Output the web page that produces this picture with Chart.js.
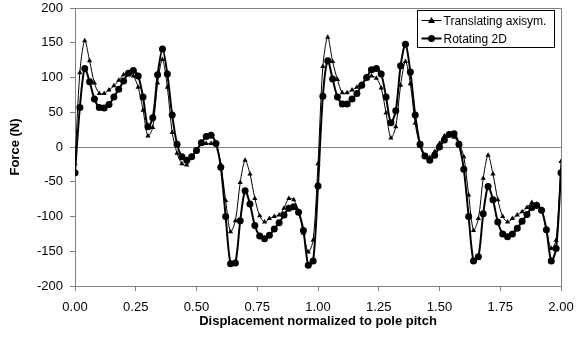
<!DOCTYPE html>
<html>
<head>
<meta charset="utf-8">
<script src="https://cdn.jsdelivr.net/npm/chart.js@4.4.1/dist/chart.umd.min.js"></script>
<style>
  body { margin: 0; background: #fff; }
  #wrap { width: 587px; height: 347px; }
</style>
</head>
<body>
<div id="wrap"><canvas id="chart1" width="587" height="347"></canvas></div>
<script>
//----------------- data ----------------------------------------------

// displacement step is 0.02 pole pitch, 0.00 .. 2.00
const displacement = [];
for (let i = 0; i <= 100; i++) displacement.push(i / 50);

const translating = [
  -24, 107, 153, 124, 92, 77, 77, 82, 88, 96,
  104, 106, 102, 86, 53, 16, 28, 92, 126, 86,
  21, -9, -24, -26, -13, -4, 4, 5, 5, 5,
  -25, -77, -122, -106, -51, -19, -39, -74, -99, -108,
  -103, -100, -98, -88, -74, -76, -92, -124, -151, -134,
  -24, 116, 158, 123, 97, 78, 78, 82, 86, 91,
  99, 102, 99, 85, 49, 13, 29, 89, 123, 91,
  34, 1, -14, -15, -7, 5, 16, 19, 14, 5,
  -14, -69, -120, -103, -45, -12, -39, -76, -100, -108,
  -103, -98, -93, -87, -80, -82, -90, -120, -146, -134,
  -21
];

const rotating = [
  -37, 57, 113, 94, 69, 57, 56, 61, 72, 83,
  95, 106, 110, 102, 72, 29, 42, 104, 141, 105,
  46, 4, -14, -19, -14, -5, 6, 15, 17, 5,
  -29, -100, -168, -167, -106, -63, -82, -113, -128, -132,
  -127, -118, -109, -98, -88, -86, -94, -120, -170, -164,
  -56, 73, 124, 98, 72, 62, 62, 69, 77, 89,
  100, 111, 113, 105, 72, 35, 52, 117, 148, 108,
  46, 4, -13, -19, -12, 0, 10, 18, 19, 4,
  -32, -100, -164, -158, -96, -57, -76, -108, -125, -129,
  -125, -117, -107, -97, -87, -84, -91, -119, -164, -146,
  -37
];

const seriesNames = ["Translating axisym.", "Rotating 2D"];
const xTicks = [0, 0.25, 0.5, 0.75, 1, 1.25, 1.5, 1.75, 2];
const yTicks = [-200, -150, -100, -50, 0, 50, 100, 150, 200];

function toPoints(ys) {
  return ys.map((y, i) => ({ x: displacement[i], y: y }));
}

// ----------- plot frame + legend box (Excel style) -----------
const framePlugin = {
  id: "frame",
  afterDraw(chart) {
    const { ctx, chartArea: a } = chart;
    ctx.save();
    ctx.strokeStyle = "#808080";
    ctx.lineWidth = 1;
    ctx.beginPath();
    ctx.moveTo(a.left, Math.round(a.top) + 0.5);
    ctx.lineTo(Math.round(a.right) + 0.5, Math.round(a.top) + 0.5);
    ctx.lineTo(Math.round(a.right) + 0.5, a.bottom);
    ctx.stroke();

    // legend
    const bx = Math.round(a.right) - 143.5, by = Math.round(a.top) + 2.5;
    ctx.fillStyle = "#fff";
    ctx.fillRect(bx, by, 137, 37);
    ctx.strokeStyle = "#000";
    ctx.strokeRect(bx, by, 137, 37);
    ctx.font = "12px 'Liberation Sans', Arial, sans-serif";
    ctx.textBaseline = "middle";
    ctx.fillStyle = "#000";
    const rows = [by + 10, by + 28];
    chart.data.datasets.forEach((ds, i) => {
      const y = rows[i];
      ctx.lineWidth = ds.borderWidth;
      ctx.beginPath();
      ctx.moveTo(bx + 4, y);
      ctx.lineTo(bx + 24, y);
      ctx.stroke();
      ctx.beginPath();
      if (ds.pointStyle === "triangle") {
        ctx.moveTo(bx + 14, y - 3.5);
        ctx.lineTo(bx + 17.5, y + 2.5);
        ctx.lineTo(bx + 10.5, y + 2.5);
        ctx.closePath();
      } else {
        ctx.arc(bx + 14, y, 3.5, 0, Math.PI * 2);
      }
      ctx.fill();
      ctx.fillText(ds.label, bx + 26, y + 1);
    });
    ctx.restore();
  }
};

const data = {
  datasets: [
    {
      label: seriesNames[0],
      data: toPoints(translating),
      showLine: true,
      tension: 0.3,
      borderColor: "#000",
      backgroundColor: "#000",
      borderWidth: 1,
      pointStyle: "triangle",
      pointRadius: 3,
      pointBorderWidth: 0,
      order: 2
    },
    {
      label: seriesNames[1],
      data: toPoints(rotating),
      showLine: true,
      tension: 0.3,
      borderColor: "#000",
      backgroundColor: "#000",
      borderWidth: 2,
      pointStyle: "circle",
      pointRadius: 3.5,
      pointBorderWidth: 0,
      order: 1
    }
  ]
};

const font = { family: "'Liberation Sans', Arial, sans-serif", size: 13 };

const config = {
  type: "scatter",
  data: data,
  options: {
    responsive: false,
    animation: false,
    devicePixelRatio: 1,
    layout: { padding: { left: 0, right: 26, top: 8, bottom: 0 } },
    plugins: { legend: { display: false }, tooltip: { enabled: false } },
    scales: {
      x: {
        type: "linear",
        min: 0,
        max: 2,
        afterBuildTicks: s => { s.ticks = xTicks.map(v => ({ value: v })); },
        afterFit: s => { s.height = 61; },
        ticks: { color: "#000", font: font, padding: 9, maxRotation: 0,
                 callback: v => v.toFixed(2) },
        grid: { drawOnChartArea: false, tickLength: 5, tickColor: "#808080" },
        border: { color: "#808080" },
        title: { display: true, text: "Displacement normalized to pole pitch",
                 color: "#000", font: { ...font, weight: "bold" },
                 padding: { top: 0, bottom: 18 } }
      },
      y: {
        min: -200,
        max: 200,
        afterBuildTicks: s => { s.ticks = yTicks.map(v => ({ value: v })); },
        afterFit: s => { s.width = 75; s.paddingTop = 0; s.paddingBottom = 0; },
        ticks: { color: "#000", font: font, padding: 7 },
        grid: {
          color: c => (c.tick && c.tick.value === 0 ? "#808080" : "rgba(0,0,0,0)"),
          tickLength: 5,
          tickColor: "#808080"
        },
        border: { color: "#808080" },
        title: { display: true, text: "Force (N)", color: "#000",
                 font: { ...font, weight: "bold" }, padding: { top: 8, bottom: 0 } }
      }
    }
  },
  plugins: [framePlugin]
};

const myChart = new Chart(document.getElementById("chart1").getContext("2d"), config);
</script>
</body>
</html>
